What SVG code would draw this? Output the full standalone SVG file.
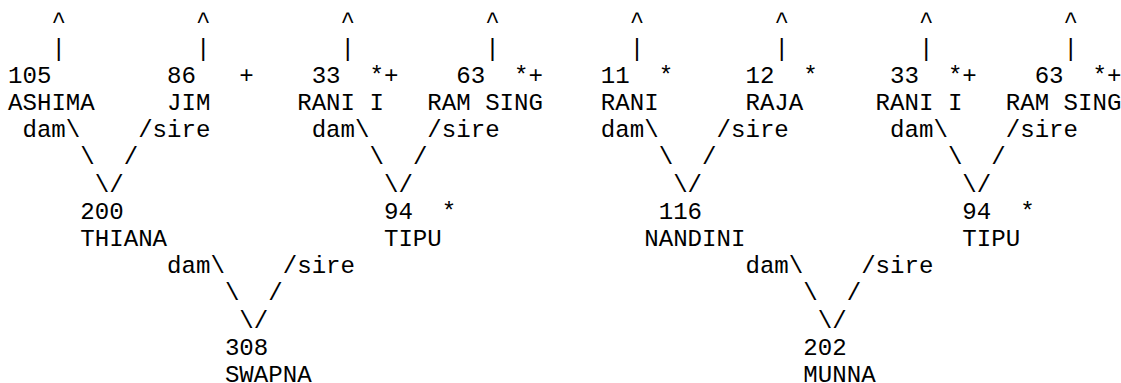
<svg xmlns="http://www.w3.org/2000/svg" width="1121" height="383" viewBox="0 0 1121 383">
<style>
text{font-family:"Liberation Mono","Courier New",monospace;font-size:24.1px;fill:#000;white-space:pre}
</style>
<rect width="1121" height="383" fill="#fff"/>
<g id="connectors">
<text x="51.38" y="28.3">^</text><text x="195.98" y="28.3">^</text><text x="340.58" y="28.3">^</text><text x="485.18" y="28.3">^</text>
<text x="629.78" y="28.3">^</text><text x="774.38" y="28.3">^</text><text x="918.98" y="28.3">^</text><text x="1063.58" y="28.3">^</text>
<text x="51.38" y="55.5">|</text><text x="195.98" y="55.5">|</text><text x="340.58" y="55.5">|</text><text x="485.18" y="55.5">|</text>
<text x="629.78" y="55.5">|</text><text x="774.38" y="55.5">|</text><text x="918.98" y="55.5">|</text><text x="1063.58" y="55.5">|</text>
<text x="22.46" y="137.1">dam\</text><text x="138.14" y="137.1">/sire</text>
<text x="311.66" y="137.1">dam\</text><text x="427.34" y="137.1">/sire</text>
<text x="600.86" y="137.1">dam\</text><text x="716.54" y="137.1">/sire</text>
<text x="890.06" y="137.1">dam\</text><text x="1005.74" y="137.1">/sire</text>
<text x="80.3" y="164.3">\</text><text x="123.68" y="164.3">/</text>
<text x="369.5" y="164.3">\</text><text x="412.88" y="164.3">/</text>
<text x="658.7" y="164.3">\</text><text x="702.08" y="164.3">/</text>
<text x="947.9" y="164.3">\</text><text x="991.28" y="164.3">/</text>
<text x="94.76" y="191.5">\/</text><text x="383.96" y="191.5">\/</text><text x="673.16" y="191.5">\/</text><text x="962.36" y="191.5">\/</text>
<text x="167.06" y="273.1">dam\</text><text x="282.74" y="273.1">/sire</text>
<text x="745.46" y="273.1">dam\</text><text x="861.14" y="273.1">/sire</text>
<text x="224.9" y="300.3">\</text><text x="268.28" y="300.3">/</text>
<text x="803.3" y="300.3">\</text><text x="846.68" y="300.3">/</text>
<text x="239.36" y="327.5">\/</text><text x="817.76" y="327.5">\/</text>
</g>
<g id="n105"><text x="8" y="82.7">105</text><text x="8" y="109.9">ASHIMA</text></g>
<g id="n86"><text x="167.06" y="82.7">86</text><text x="239.36" y="82.7">+</text><text x="167.06" y="109.9">JIM</text></g>
<g id="n33a"><text x="311.66" y="82.7">33</text><text x="369.5" y="82.7">*+</text><text x="297.2" y="109.9">RANI I</text></g>
<g id="n63a"><text x="456.26" y="82.7">63</text><text x="514.1" y="82.7">*+</text><text x="427.34" y="109.9">RAM SING</text></g>
<g id="n11"><text x="600.86" y="82.7">11</text><text x="658.7" y="82.7">*</text><text x="600.86" y="109.9">RANI</text></g>
<g id="n12"><text x="745.46" y="82.7">12</text><text x="803.3" y="82.7">*</text><text x="745.46" y="109.9">RAJA</text></g>
<g id="n33b"><text x="890.06" y="82.7">33</text><text x="947.9" y="82.7">*+</text><text x="875.6" y="109.9">RANI I</text></g>
<g id="n63b"><text x="1034.66" y="82.7">63</text><text x="1092.5" y="82.7">*+</text><text x="1005.74" y="109.9">RAM SING</text></g>
<g id="n200"><text x="80.3" y="218.7">200</text><text x="80.3" y="245.9">THIANA</text></g>
<g id="n94a"><text x="383.96" y="218.7">94</text><text x="441.8" y="218.7">*</text><text x="383.96" y="245.9">TIPU</text></g>
<g id="n116"><text x="658.7" y="218.7">116</text><text x="644.24" y="245.9">NANDINI</text></g>
<g id="n94b"><text x="962.36" y="218.7">94</text><text x="1020.2" y="218.7">*</text><text x="962.36" y="245.9">TIPU</text></g>
<g id="n308"><text x="224.9" y="354.7">308</text><text x="224.9" y="381.9">SWAPNA</text></g>
<g id="n202"><text x="803.3" y="354.7">202</text><text x="803.3" y="381.9">MUNNA</text></g>
</svg>
